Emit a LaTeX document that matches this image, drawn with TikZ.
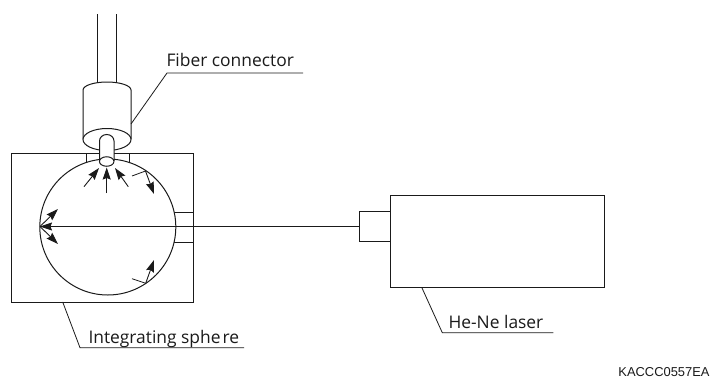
\documentclass[tikz,border=0pt]{standalone}
\usepackage{fontspec}
\usepackage{xcolor}
\usepackage{tikz}
\usetikzlibrary{positioning,arrows.meta,shapes.geometric}
\setmainfont{Open Sans}
\newfontfamily\codefont{Liberation Sans}
\definecolor{inkline}{HTML}{1a1a1a}

\begin{document}
\begin{tikzpicture}[x=1pt, y=-1pt, line width=1pt, draw=inkline, text=inkline,
  part/.style={draw, fill=white, minimum width=#1, inner sep=0pt, outer sep=0pt},
  oval/.style={draw, ellipse, fill=white, inner sep=0pt, outer sep=0pt},
  label/.style={anchor=base west, inner sep=0pt, font=\fontsize{17.4}{20}\selectfont},
  leader/.style={line width=0.8pt},
  ray/.style={-{Stealth[length=12pt, width=8pt, inset=1.5pt]}, line width=0.9pt},
  >={Stealth[length=12pt, width=8pt, inset=1.5pt]}]
\useasboundingbox (0,0) rectangle (712,378);
\node[part=182pt, minimum height=149pt, anchor=north west] (housing) at (11.5,153) {};
\node[part=28.5pt, minimum height=30pt, anchor=north west] (inport) at (165,212) {};
\node[part=43pt, minimum height=20pt, anchor=north west] (topport) at (86,153) {};
\node[draw, circle, minimum size=136pt, inner sep=0pt, outer sep=0pt, fill=white] (sphere) at (107.8,227) {};
% fiber and connector
\coordinate (fiberl) at (97,14);
\coordinate (fiberr) at (116,14);
\draw (fiberl) -- (97,84);
\draw (fiberr) -- (116,84);
\draw[fill=white] (83,139) -- (83,90) arc (180:360:24 and 8) -- (131,139);
\node[oval, minimum width=48pt, minimum height=22pt] (plug) at (107,139.5) {};
\draw[fill=white] (99.5,161) -- (99.5,141) arc (180:360:7.25 and 6.5) -- (114,161);
\node[oval, minimum width=14.5pt, minimum height=9.5pt] (tip) at (106.7,161.5) {};
% laser
\node[part=213.6pt, minimum height=91.6pt, anchor=north west] (laser) at (390.7,195.7) {};
\node[part=31.7pt, minimum height=30pt, anchor=north east] (nozzle) at (laser.north west |- 0,211.3) {};
\coordinate (hit) at (40,226.5);
\draw[->] (nozzle.west |- hit) -- (hit);
% rays
\draw[ray] (84,186.7) -- (99,168);
\draw[ray] (106.7,193) -- (106.7,167.5);
\draw[ray] (128.3,186.7) -- (115,168);
\draw[ray] (hit) -- (58,209);
\draw[ray] (hit) -- (58,244);
\draw[leader] (132,176) -- (145.5,171);
\draw[ray] (145.5,171) -- (154,194);
\draw[leader] (132,278.7) -- (145.7,283.3);
\draw[ray] (145.7,283.3) -- (154,260);
% labels
\node[label] (fiberlabel) at (166,66) {Fiber connector};
\node[label] (spherelabel) at (88,343) {Integrating sphe\kern2pt re};
\node[label] (laserlabel) at (448,328) {He-Ne laser};
\node[anchor=base east, inner sep=0pt, font=\codefont\fontsize{12.9}{14}\selectfont] (code) at (710,376) {KACCC0557EA};
\draw[leader] (131,124) -- (167,73) -- (303,73);
\draw[leader] (62.7,302) -- (80,347.7) -- (244,347.7);
\draw[leader] (421.7,287.3) -- (442.3,332.7) -- (553.3,332.7);
\end{tikzpicture}
\end{document}
